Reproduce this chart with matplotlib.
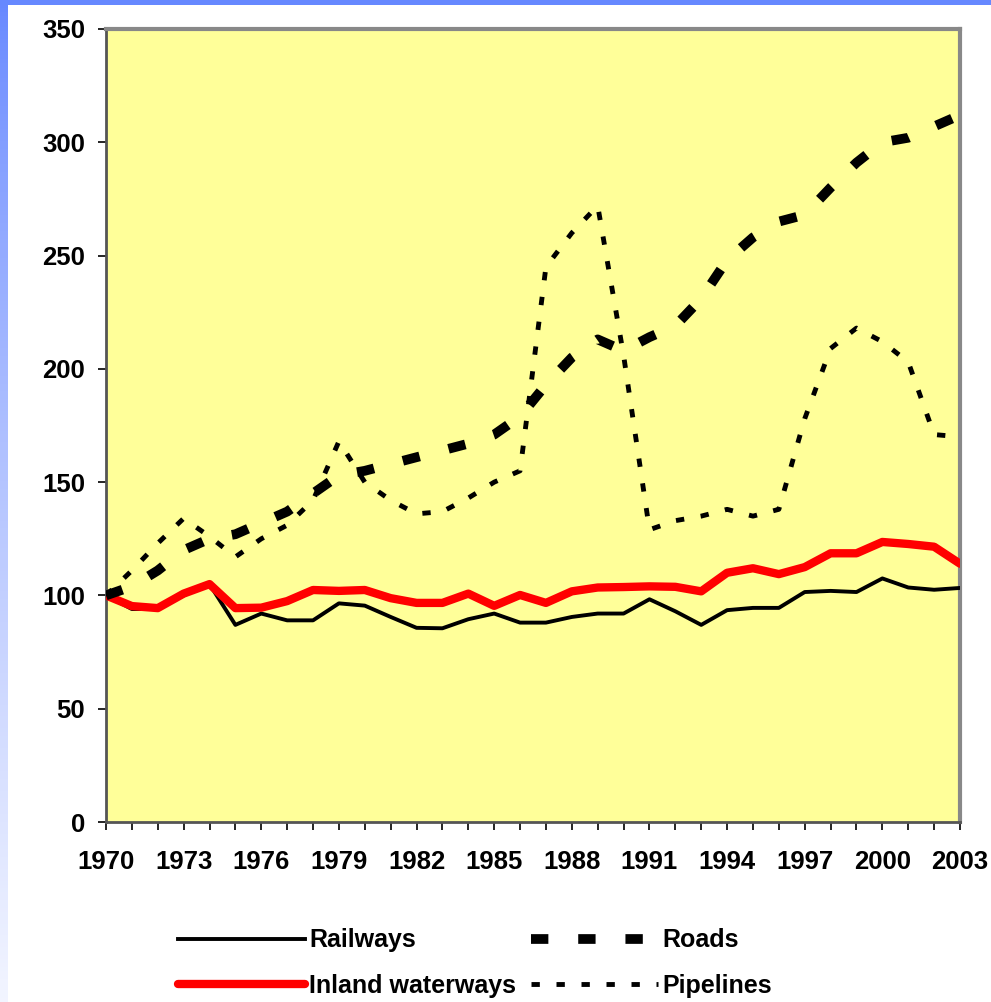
import numpy as np
import matplotlib
matplotlib.use("Agg")
import matplotlib.pyplot as plt
from matplotlib.ticker import MultipleLocator

plt.rcParams['font.family'] = ['Liberation Sans', 'DejaVu Sans']
plt.rcParams['font.weight'] = 'bold'
plt.rcParams['lines.scale_dashes'] = False

# index 1970 = 100
years = list(range(1970, 2004))
railways = [100, 94, 94, 100, 105, 87, 92, 89, 89, 96.5, 95.5, 90.5, 85.7, 85.5, 89.5, 92,
            88, 88, 90.5, 92, 92, 98.3, 93, 87, 93.5, 94.5, 94.5, 101.5, 102, 101.5, 107.5,
            103.5, 102.5, 103.3]
inland = [100, 95.3, 94.4, 100.8, 105, 94.4, 94.6, 97.5, 102.4, 102, 102.4, 98.8, 96.7,
          96.7, 100.8, 95.4, 100.2, 96.7, 101.8, 103.5, 103.7, 104, 103.8, 101.8, 110, 112,
          109.4, 112.5, 118.6, 118.6, 123.6, 122.7, 121.5, 114]
roads = [100, 104, 111, 120, 125, 127, 132, 137, 145, 153, 155, 158, 161, 164, 167, 171,
         179, 193, 205, 213, 208, 214, 219, 231, 248, 258, 265, 268, 280, 291, 300, 302,
         307, 312]
pipelines = [100, 111, 123, 134, 126, 117, 125, 131, 142, 168, 150, 142, 136, 137, 143, 150,
             155, 245, 260, 272, 206, 129, 133, 135, 138, 135, 138, 178, 209, 218, 212, 203,
             171, 170]

fig = plt.figure(figsize=(9.91, 10.02), dpi=100)
fig.patch.set_facecolor('white')

# blue strips at top and left of the slide
grad = np.linspace(0, 1, 256).reshape(-1, 1)
bg = fig.add_axes([0, 0, 8 / 991, 1])
c_top = np.array([0.40, 0.53, 1.0])
c_bot = np.array([0.95, 0.96, 1.0])
img = c_top + (c_bot - c_top) * grad ** 0.8
bg.imshow(img[:, None, :].repeat(2, axis=1), aspect='auto')
bg.axis('off')
top = fig.add_axes([0, 1 - 5 / 1002, 1, 5 / 1002])
top.set_facecolor('#6688ff')
top.set_xticks([])
top.set_yticks([])
for s in top.spines.values():
    s.set_visible(False)

ax = fig.add_axes([106 / 991, 180 / 1002, 854 / 991, 793 / 1002])
ax.set_facecolor('#ffff99')

ax.plot(years, railways, color='black', lw=2.8, label='Railways', zorder=3)
ax.plot(years, inland, color='#ff0000', lw=6, label='Inland waterways', zorder=4,
        solid_capstyle='round')
ax.plot(years, roads, color='black', lw=7, dashes=(12.5, 21.5), label='Roads', zorder=5)
ax.plot(years, pipelines, color='black', lw=3.5, dashes=(6, 12), label='Pipelines', zorder=5)

ax.set_xlim(1970, 2003)
ax.set_ylim(0, 350)
ax.yaxis.set_major_locator(MultipleLocator(50))
ax.set_xticks(years[::3])
ax.xaxis.set_minor_locator(MultipleLocator(1))
ax.tick_params(axis='both', which='both', direction='out', length=6, width=1.2,
               labelsize=18.5, color='black')
ax.tick_params(axis='y', pad=9)
ax.tick_params(axis='x', pad=14)

ax.spines['left'].set_color('#555555')
ax.spines['left'].set_linewidth(2)
ax.spines['bottom'].set_color('#555555')
ax.spines['bottom'].set_linewidth(2)
ax.spines['top'].set_color('#888888')
ax.spines['top'].set_linewidth(3)
ax.spines['right'].set_color('#888888')
ax.spines['right'].set_linewidth(3)

handles, labels = ax.get_legend_handles_labels()
fig.legend(handles, labels, ncol=2, loc='center', bbox_to_anchor=(0.479, 0.039),
           frameon=False, fontsize=18, handlelength=5.1, handletextpad=0.15,
           columnspacing=0.6, labelspacing=0.85, borderpad=0)

fig.savefig('out.png', dpi=100)
